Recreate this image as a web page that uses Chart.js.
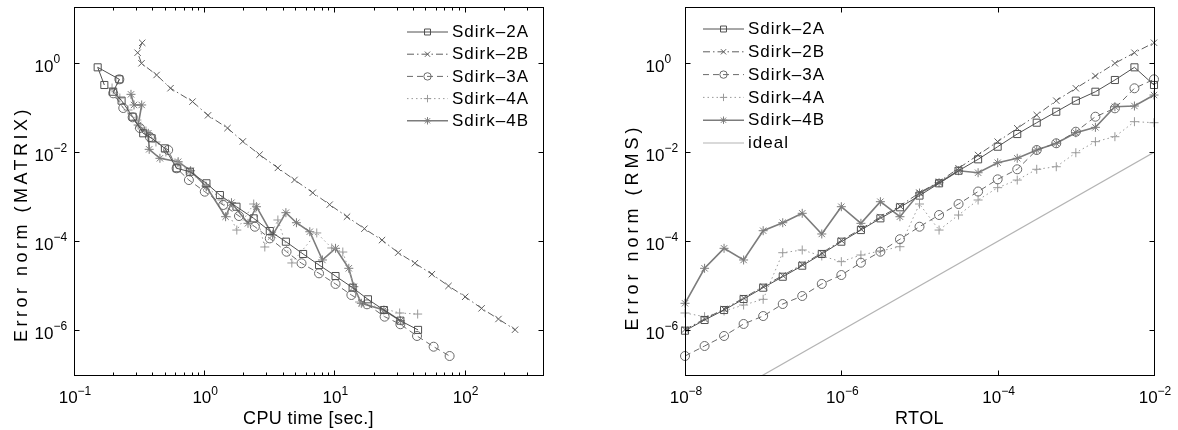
<!DOCTYPE html>
<html>
<head>
<meta charset="utf-8">
<script src="https://cdn.jsdelivr.net/npm/chart.js@4.4.1/dist/chart.umd.min.js"></script>
<style>
  body { margin: 0; background: #fff; }
  canvas { position: absolute; top: 0; }
  #left { left: 0; }
  #right { left: 589px; }
</style>
</head>
<body>
<canvas id="left" width="589" height="430"></canvas>
<canvas id="right" width="589" height="430"></canvas>
<script>
// ---- left panel: error (MATRIX) vs CPU time ----
const cpu2A = [0.171, 0.152, 0.223, 0.200, 0.232, 0.282, 0.340, 0.395, 0.499, 0.614, 0.776, 1.04, 1.32, 1.77, 2.40, 3.19, 4.24, 5.75, 7.62, 10.2, 13.8, 18.1, 24.0, 32.1, 43.9];
const err2A = [0.326, 0.813, 0.437, 0.230, 0.145, 0.0632, 0.0268, 0.0207, 0.0123, 0.00439, 0.00368, 0.00202, 0.00110, 6.02e-4, 3.30e-4, 1.71e-4, 9.86e-5, 5.22e-5, 2.95e-5, 1.67e-5, 9.14e-6, 5.01e-6, 2.88e-6, 1.66e-6, 1.03e-6];
const cpu2B = [0.334, 0.308, 0.330, 0.431, 0.551, 0.813, 1.07, 1.51, 1.98, 2.66, 3.68, 4.94, 6.82, 9.2, 12.5, 17.0, 23.2, 30.9, 41.5, 56.1, 75.2, 101, 135, 182, 244];
const err2B = [2.89, 1.73, 1.0, 0.547, 0.276, 0.138, 0.0679, 0.0351, 0.0176, 0.00889, 0.00448, 0.00241, 0.00124, 6.7e-4, 3.59e-4, 1.93e-4, 1.07e-4, 5.6e-5, 3.24e-5, 1.84e-5, 1.0e-5, 5.7e-6, 3.14e-6, 1.81e-6, 1.04e-6];
const cpu3A = [0.223, 0.200, 0.239, 0.282, 0.321, 0.383, 0.529, 0.614, 0.763, 1.01, 1.40, 1.85, 2.45, 3.19, 4.29, 5.59, 7.62, 10.2, 13.5, 17.8, 24.3, 32.1, 43.1, 57.8, 76.7];
const err3A = [0.437, 0.212, 0.0991, 0.0613, 0.0352, 0.0221, 0.0113, 0.00439, 0.00239, 0.00131, 6.58e-4, 3.72e-4, 2.14e-4, 1.17e-4, 5.87e-5, 3.23e-5, 1.92e-5, 1.11e-5, 6.26e-6, 3.87e-6, 2.04e-6, 1.38e-6, 7.52e-7, 4.32e-7, 2.67e-7];
const cpu4A = [0.196, 0.225, 0.260, 0.304, 0.357, 0.426, 0.508, 0.628, 0.776, 1.03, 1.37, 1.78, 2.40, 2.92, 3.68, 4.71, 7.32, 9.54, 11.6, 15.6, 31.7, 43.6];
const err4A = [0.279, 0.166, 0.0894, 0.0533, 0.0302, 0.0171, 0.0102, 0.00577, 0.00362, 0.00176, 8.51e-4, 1.80e-4, 6.92e-4, 7.50e-5, 3.03e-4, 3.28e-5, 1.55e-4, 7.12e-5, 5.78e-5, 4.36e-6, 2.47e-6, 2.34e-6];
const cpu4B = [0.274, 0.289, 0.331, 0.311, 0.372, 0.378, 0.457, 0.631, 0.786, 1.04, 1.46, 1.62, 2.17, 2.52, 3.35, 4.24, 5.11, 6.47, 8.09, 10.2, 12.9, 14.1, 16.1, 24.0, 32.1];
const err4B = [0.201, 0.116, 0.116, 0.0411, 0.0268, 0.0117, 0.00736, 0.00617, 0.00387, 0.00169, 3.59e-4, 7.41e-4, 2.55e-4, 6.02e-4, 1.39e-4, 4.42e-4, 2.63e-4, 1.65e-4, 3.83e-5, 7.0e-5, 2.49e-5, 9.62e-6, 4.08e-6, 2.88e-6, 1.66e-6];

// ---- right panel: error (RMS) vs RTOL ----
const rtol = [1e-8, 1.78e-8, 3.16e-8, 5.62e-8, 1e-7, 1.78e-7, 3.16e-7, 5.62e-7, 1e-6, 1.78e-6, 3.16e-6, 5.62e-6, 1e-5, 1.78e-5, 3.16e-5, 5.62e-5, 1e-4, 1.78e-4, 3.16e-4, 5.62e-4, 1e-3, 1.78e-3, 3.16e-3, 5.62e-3, 1e-2];
const rms2A = [9.89e-7, 1.72e-6, 2.88e-6, 5.09e-6, 9.14e-6, 1.61e-5, 2.85e-5, 5.22e-5, 9.86e-5, 1.80e-4, 3.30e-4, 5.84e-4, 1.07e-3, 2.02e-3, 3.87e-3, 6.98e-3, 0.0134, 0.0258, 0.0464, 0.0818, 0.145, 0.230, 0.422, 0.813, 0.326];
const rms2B = [1.05e-6, 1.81e-6, 3.04e-6, 5.36e-6, 9.72e-6, 1.72e-5, 3.03e-5, 5.50e-5, 1.05e-4, 1.90e-4, 3.53e-4, 6.24e-4, 1.24e-3, 2.19e-3, 4.39e-3, 8.73e-3, 0.0174, 0.0347, 0.0690, 0.145, 0.275, 0.519, 1.0, 1.73, 2.90];
const rms3A = [2.67e-7, 4.48e-7, 7.52e-7, 1.40e-6, 2.11e-6, 3.93e-6, 5.95e-6, 1.11e-5, 1.76e-5, 3.33e-5, 5.87e-5, 1.12e-4, 2.14e-4, 3.92e-4, 6.92e-4, 1.32e-3, 2.48e-3, 4.17e-3, 0.0113, 0.0160, 0.0291, 0.0632, 0.0976, 0.275, 0.437];
const rms4A = [2.47e-6, 2.04e-6, 2.74e-6, 3.73e-6, 5.01e-6, 5.58e-5, 6.42e-5, 4.71e-5, 3.51e-5, 4.95e-5, 6.10e-5, 7.61e-5, 6.92e-4, 1.80e-4, 3.92e-4, 8.51e-4, 1.61e-3, 2.39e-3, 4.17e-3, 4.76e-3, 9.82e-3, 0.0174, 0.0225, 0.0489, 0.0464];
const rms4B = [4.08e-6, 2.49e-5, 7.0e-5, 3.83e-5, 1.74e-4, 2.63e-4, 4.28e-4, 1.47e-4, 6.02e-4, 2.55e-4, 7.80e-4, 3.59e-4, 1.22e-3, 2.08e-3, 3.87e-3, 3.49e-3, 5.86e-3, 7.36e-3, 0.0113, 0.0160, 0.0276, 0.0365, 0.106, 0.110, 0.194];
const idealX = [1e-8, 1e-2];
const idealY = [1e-8, 1e-2];

// ---- ticks ----
const cpuTicks = [0.1, 1, 10, 100];
const errTicks = [1e-6, 1e-4, 1e-2, 1];
const rtolTicks = [1e-8, 1e-6, 1e-4, 1e-2];

const FONT = '"Liberation Sans", Arial, sans-serif';

function pts(xs, ys) {
  return xs.map((v, i) => ({ x: v, y: ys[i] }));
}

function series(label, xs, ys, color, dash, width, marker, radius) {
  return {
    label: label,
    data: pts(xs, ys),
    borderColor: color,
    borderWidth: width,
    borderDash: dash,
    pointStyle: marker,
    pointRadius: radius,
    pointBorderColor: color,
    pointBackgroundColor: 'rgba(0,0,0,0)',
    pointBorderWidth: 1,
    tension: 0,
    clip: 6
  };
}

function minorTicks(lo, hi) {
  const out = [];
  for (let d = lo; d < hi; d *= 10) {
    for (let m = 2; m <= 9; m++) {
      if (d * m <= hi) out.push(d * m);
    }
  }
  return out;
}

function drawPow(ctx, v, x, y, centered) {
  const e = Math.round(Math.log10(v));
  const ex = e < 0 ? '\u2212' + (-e) : String(e);
  ctx.font = '17px ' + FONT;
  const w1 = ctx.measureText('10').width;
  ctx.font = '12px ' + FONT;
  const w2 = ctx.measureText(ex).width;
  const x0 = centered ? x - (w1 + w2) / 2 : x;
  ctx.font = '17px ' + FONT;
  ctx.fillText('10', x0, y);
  ctx.font = '12px ' + FONT;
  ctx.fillText(ex, x0 + w1, y - 8.5);
}

// box, inward ticks, tick labels, titles and MATLAB-style legend
const matlabAxes = {
  id: 'matlabAxes',
  afterDraw(chart, args, o) {
    const ctx = chart.ctx;
    const a = chart.chartArea;
    const xs = chart.scales.x, ys = chart.scales.y;
    const L = Math.round(a.left) + 0.5, R = Math.round(a.right) + 0.5;
    const T = Math.round(a.top) + 0.5, B = Math.round(a.bottom) + 0.5;
    ctx.save();
    ctx.strokeStyle = '#000';
    ctx.lineWidth = 1;
    ctx.setLineDash([]);
    ctx.strokeRect(L, T, R - L, B - T);
    ctx.beginPath();
    const tx = (v, len) => {
      const p = Math.round(xs.getPixelForValue(v)) + 0.5;
      ctx.moveTo(p, B); ctx.lineTo(p, B - len);
      ctx.moveTo(p, T); ctx.lineTo(p, T + len);
    };
    o.xTicks.forEach(v => tx(v, 5));
    (o.xMinor || []).forEach(v => tx(v, 3));
    o.yTicks.forEach(v => {
      const p = Math.round(ys.getPixelForValue(v)) + 0.5;
      ctx.moveTo(L, p); ctx.lineTo(L + 5, p);
      ctx.moveTo(R, p); ctx.lineTo(R - 5, p);
    });
    ctx.stroke();

    ctx.fillStyle = '#000';
    ctx.textAlign = 'left';
    ctx.textBaseline = 'alphabetic';
    o.xTicks.forEach(v => drawPow(ctx, v, xs.getPixelForValue(v) + 1, a.bottom + 28, true));
    o.yTicks.forEach(v => drawPow(ctx, v, a.left - 39.5, ys.getPixelForValue(v) + 8.4, false));

    // axis titles
    ctx.font = '18px ' + FONT;
    ctx.textAlign = 'center';
    ctx.letterSpacing = '0.4px';
    ctx.fillText(o.xTitle, (a.left + a.right) / 2, 424);
    ctx.save();
    ctx.translate(o.yTitleX, o.yTitleY);
    ctx.rotate(-Math.PI / 2);
    ctx.letterSpacing = o.yTitleSpacing;
    ctx.fillText(o.yTitle, 0, 0);
    ctx.restore();

    // legend
    const lg = o.legend;
    ctx.font = '17px ' + FONT;
    ctx.textAlign = 'left';
    ctx.textBaseline = 'middle';
    ctx.letterSpacing = '1px';
    chart.data.datasets.forEach((ds, i) => {
      const yy = lg.y + i * lg.gap;
      ctx.strokeStyle = ds.borderColor;
      ctx.lineWidth = ds.borderWidth;
      ctx.setLineDash(ds.borderDash || []);
      ctx.beginPath();
      ctx.moveTo(lg.x, yy + 0.5);
      ctx.lineTo(lg.x + 41, yy + 0.5);
      ctx.stroke();
      ctx.setLineDash([]);
      if (ds.pointRadius > 0) {
        ctx.lineWidth = 1;
        ctx.fillStyle = 'rgba(0,0,0,0)';
        Chart.helpers.drawPoint(ctx, { pointStyle: ds.pointStyle, rotation: 0, radius: ds.pointRadius - 0.8, borderWidth: 1 }, lg.x + 20.5, yy + 0.5);
      }
      ctx.fillStyle = '#000';
      ctx.fillText(ds.label, lg.x + 45, yy + 1);
    });
    ctx.letterSpacing = '0px';
    ctx.restore();
  }
};

function logAxis(min, max, ticks, fitKey, fitVal) {
  return {
    type: 'logarithmic',
    min: min,
    max: max,
    ticks: { display: false },
    grid: { display: false },
    border: { display: false },
    afterBuildTicks(s) { s.ticks = ticks.map(v => ({ value: v })); },
    afterFit(s) { s[fitKey] = fitVal; }
  };
}

function makeChart(id, datasets, xAxis, yAxis, padRight, axesOpts) {
  return new Chart(document.getElementById(id), {
    type: 'line',
    data: { datasets: datasets },
    options: {
      responsive: false,
      animation: false,
      events: [],
      layout: { padding: { top: 7, right: padRight, left: 0, bottom: 0 } },
      scales: { x: xAxis, y: yAxis },
      plugins: { legend: { display: false }, tooltip: { enabled: false }, matlabAxes: axesOpts }
    },
    plugins: [matlabAxes]
  });
}

const C2A = '#505050', C2B = '#5e5e5e', C3A = '#6a6a6a', C4A = '#9a9a9a', C4B = '#7c7c7c';

makeChart('left', [
  series('Sdirk\u20132A', cpu2A, err2A, C2A, [], 1, 'rect', 5),
  series('Sdirk\u20132B', cpu2B, err2B, C2B, [7, 3, 1.5, 3], 1, 'crossRot', 4.5),
  series('Sdirk\u20133A', cpu3A, err3A, C3A, [6, 4], 1, 'circle', 4.5),
  series('Sdirk\u20134A', cpu4A, err4A, C4A, [1.5, 3], 1, 'cross', 4.5),
  series('Sdirk\u20134B', cpu4B, err4B, C4B, [], 1.6, 'star', 4.5)
], logAxis(0.1, 400, cpuTicks, 'height', 55), logAxis(1e-7, 18.4, errTicks, 'width', 74), 46, {
  xTicks: cpuTicks, xMinor: minorTicks(0.1, 400), yTicks: errTicks,
  xTitle: 'CPU time [sec.]', yTitle: 'Error norm (MATRIX)', yTitleX: 27, yTitleY: 224, yTitleSpacing: '3.5px',
  legend: { x: 407, y: 31.5, gap: 22.2 }
});

const ideal = series('ideal', idealX, idealY, '#b4b4b4', [], 1.2, 'circle', 0);
ideal.clip = 0;

makeChart('right', [
  series('Sdirk\u20132A', rtol, rms2A, C2A, [], 1, 'rect', 5),
  series('Sdirk\u20132B', rtol, rms2B, C2B, [7, 3, 1.5, 3], 1, 'crossRot', 4.5),
  series('Sdirk\u20133A', rtol, rms3A, C3A, [6, 4], 1, 'circle', 4.5),
  series('Sdirk\u20134A', rtol, rms4A, C4A, [1.5, 3], 1, 'cross', 4.5),
  series('Sdirk\u20134B', rtol, rms4B, C4B, [], 1.6, 'star', 4.5),
  ideal
], logAxis(1e-8, 1e-2, rtolTicks, 'height', 55), logAxis(1e-7, 18.4, errTicks, 'width', 96), 24, {
  xTicks: rtolTicks, yTicks: errTicks,
  xTitle: 'RTOL', yTitle: 'Error norm (RMS)', yTitleX: 49, yTitleY: 227, yTitleSpacing: '4px',
  legend: { x: 114, y: 28.5, gap: 22.8 }
});
</script>
</body>
</html>
